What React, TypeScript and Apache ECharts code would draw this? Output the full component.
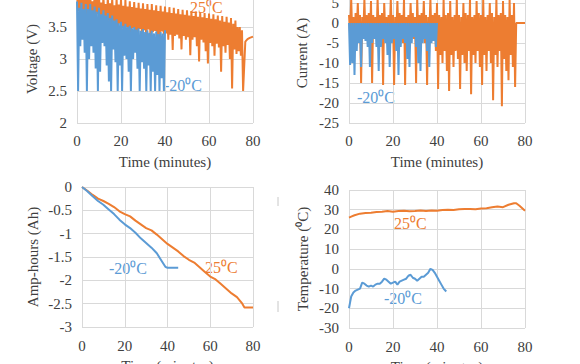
import React, { useEffect, useRef } from "react";
import * as echarts from "echarts";

// ---------- data ----------
const SAMPLE_STEP = 0.5; // minutes between samples of the voltage / current logs

// Voltage (V), -20 °C run, samples every 0.5 min from 0 to 40
const voltCold = [
  3.90, 2.50, 3.80, 3.20, 3.88, 3.30, 3.78, 3.10, 3.86, 2.50,
  3.78, 3.00, 3.86, 3.20, 3.76, 3.10, 3.82, 2.85, 3.74, 2.50,
  3.80, 2.80, 3.70, 3.25, 3.76, 3.20, 3.68, 2.90, 3.72, 2.65,
  3.64, 2.50, 3.68, 3.15, 3.60, 2.95, 3.62, 2.50, 3.56, 2.90,
  3.58, 2.50, 3.52, 3.05, 3.55, 3.00, 3.50, 2.80, 3.52, 2.50,
  3.48, 3.00, 3.50, 3.10, 3.46, 2.85, 3.48, 2.50, 3.44, 2.95,
  3.47, 2.85, 3.42, 2.50, 3.45, 2.90, 3.41, 2.50, 3.44, 2.80,
  3.40, 2.50, 3.43, 2.75, 3.39, 2.50, 3.42, 2.70, 3.40, 2.50,
  3.45,
];

// Voltage (V), 25 °C run, samples every 0.5 min from 0 to 75.5
const voltWarm = [
  4.02, 3.75, 3.95, 3.72, 4.02, 3.70, 3.92, 3.74, 4.02, 3.68,
  3.94, 3.73, 4.00, 3.66, 3.90, 3.71, 3.99, 3.64, 3.92, 3.70,
  3.98, 3.62, 3.88, 3.60, 3.97, 3.66, 3.86, 3.55, 3.96, 3.60,
  3.87, 3.52, 3.95, 3.58, 3.84, 3.50, 3.95, 3.40, 3.85, 3.55,
  3.93, 3.48, 3.83, 3.38, 3.92, 3.50, 3.82, 3.45, 3.90, 3.35,
  3.81, 3.48, 3.89, 3.44, 3.80, 3.30, 3.88, 3.47, 3.79, 3.40,
  3.87, 3.45, 3.78, 3.28, 3.86, 3.46, 3.77, 3.20, 3.86, 3.42,
  3.76, 3.44, 3.84, 3.36, 3.75, 3.22, 3.83, 3.43, 3.74, 3.38,
  3.82, 3.40, 3.73, 3.30, 3.81, 3.38, 3.72, 3.14, 3.80, 3.36,
  3.71, 3.38, 3.78, 3.32, 3.70, 3.15, 3.77, 3.36, 3.69, 3.30,
  3.76, 3.34, 3.68, 3.06, 3.75, 3.30, 3.67, 3.34, 3.74, 3.20,
  3.66, 2.96, 3.73, 3.30, 3.65, 3.26, 3.72, 3.12, 3.64, 2.93,
  3.71, 3.25, 3.63, 3.20, 3.70, 3.05, 3.62, 3.24, 3.68, 3.18,
  3.60, 2.80, 3.67, 3.20, 3.58, 3.10, 3.66, 3.22, 3.57, 3.00,
  3.64, 2.54, 3.55, 3.15, 3.60, 3.08, 3.50, 3.12, 3.50, 3.05,
  3.45, 2.50,
];
// rest voltage after the 25 °C run ends
const voltWarmRestTime = [76.5, 77.5, 78.5, 80];
const voltWarmRest = [3.27, 3.31, 3.33, 3.35];

// Current (A), -20 °C run, samples every 0.5 min from 0 to 40
const currCold = [
  0, -10.5, 0, -10, 0, -13, 0, -7, 0, -5,
  0, -11, 0, -4, 0, -4.5, 0, -6, 0, -11,
  0, -5, 0, -4, 0, -6, 0, -12, 0, -6,
  0, -4, 0, -5, 0, -8, 0, -11, 0, -5,
  0, -4, 0, -7, 0, -13, 0, -6, 0, -4,
  0, -5, 0, -9, 0, -11, 0, -5, 0, -3.5,
  0, -6, 0, -10, 0, -12, 0, -5, 0, -4,
  0, -7, 0, -11, 0, -5, 0, -4.5, 0, -6,
  0,
];

// Current (A), 25 °C run, samples every 0.5 min from 0 to 75.5
const currWarm = [
  2, -3, 6, -4, 1.5, -6, 2.5, -3, 5, -4,
  2, -15, 1.5, -3, 6, -4, 2, -3, 2.5, -5,
  5.5, -15, 2, -3, 1.5, -4, 6, -3, 2, -5,
  2.5, -15.5, 5, -3, 1.5, -4, 2, -3, 6, -4,
  2, -15.5, 1.5, -3, 5.5, -4, 2.5, -3, 2, -5,
  6, -15.5, 1.5, -3, 2, -4, 5, -3, 2.5, -4,
  1.5, -15, 6, -3, 2, -4, 2.5, -3, 5.5, -5,
  2, -15.5, 1.5, -3, 6, -4, 2, -3, 2.5, -7,
  5, -16.5, 2, -8, 1.5, -10, 6, -7, 2, -12,
  2.5, -17, 5.5, -8, 1.5, -11, 2, -7, 6, -9,
  2, -16.5, 1.5, -8, 5, -10, 2.5, -12, 2, -7,
  6, -17.8, 1.5, -8, 2, -10, 5.5, -7, 2.5, -11,
  2, -15.5, 6, -8, 1.5, -12, 2, -7, 5, -10,
  2.5, -19.3, 1.5, -8, 6, -11, 2, -7, 2.5, -20.8,
  5.5, -9, 2, -12, 1.5, -14.3, 6, -8, 2, -11,
  5, -16,
];
const currWarmRestTime = [76, 80];
const currWarmRest = [0, 0];

// Amp-hours (Ah)
const ahWarmTime = [0, 2.5, 5, 7.5, 10, 12.5, 15, 17.5, 20, 22.5, 25, 27.5, 30, 32.5, 35, 37.5, 40, 42.5, 45, 47.5, 50, 52.5, 55, 57.5, 60, 62.5, 65, 67.5, 70, 72.5, 75, 76, 80];
const ahWarm = [0, -0.08, -0.17, -0.25, -0.30, -0.36, -0.43, -0.52, -0.58, -0.63, -0.72, -0.80, -0.88, -0.93, -1.02, -1.12, -1.22, -1.30, -1.38, -1.48, -1.56, -1.62, -1.72, -1.82, -1.92, -1.98, -2.08, -2.18, -2.28, -2.36, -2.50, -2.58, -2.58];
const ahColdTime = [0, 2.5, 5, 7.5, 10, 12.5, 15, 17.5, 20, 22.5, 25, 27.5, 30, 32.5, 35, 37.5, 39, 40, 45];
const ahCold = [0, -0.09, -0.20, -0.30, -0.38, -0.48, -0.58, -0.70, -0.80, -0.88, -0.98, -1.10, -1.20, -1.30, -1.42, -1.60, -1.71, -1.73, -1.73];

// Temperature (°C)
const tempWarmTime = [0, 1, 2.5, 5, 7.5, 10, 12.5, 15, 17.5, 20, 22.5, 25, 27.5, 30, 32.5, 35, 37.5, 40, 42.5, 45, 47.5, 50, 52.5, 55, 57.5, 60, 62.5, 65, 67.5, 70, 72.5, 75, 76, 77.5, 80];
const tempWarm = [26, 26.5, 27.2, 28, 28.3, 28.5, 28.8, 29, 29.3, 29, 29.3, 29.5, 29.2, 29.3, 29.6, 29.4, 29.6, 29.5, 29.8, 30, 29.8, 30.2, 30.3, 30.4, 30.2, 30.6, 30.8, 31.2, 31.6, 31.3, 32.5, 33.3, 33.3, 32, 29.5];
const tempColdTime = [0, 0.5, 1, 2, 3, 4, 5, 6, 7, 8, 9, 10, 11, 12, 13, 14, 15, 16, 17, 18, 19, 20, 21, 22, 23, 24, 25, 26, 27, 28, 29, 30, 31, 32, 33, 34, 35, 36, 37, 38, 39, 40, 41, 42, 43, 44.2];
const tempCold = [-20, -17, -14, -12, -11, -10.5, -10, -7, -7.5, -8.5, -9, -8.5, -9, -8, -7.5, -7.5, -6.5, -5, -5.5, -6.5, -7.5, -7, -6.5, -8, -6.5, -6, -5.5, -5, -3.5, -3, -4.5, -5, -6, -5, -4, -4, -3, -2, 0, -0.5, -2, -4, -6, -8, -10, -11.5];

// Labels
const xTitle = "Time (minutes)";
const yTitles = ["Voltage (V)", "Current (A)", "Amp-hours (Ah)", "Temperature (\u2070C)"];
const warmLabel = "25\u2070C";
const coldLabel = "-20\u2070C";

// ---------- helpers ----------
const sampled = (vals: number[]) => vals.map((v, i) => [i * SAMPLE_STEP, v]);
const paired = (ts: number[], vs: number[]) => ts.map((t, i) => [t, vs[i]]);

const ORANGE = "#ED7D31";
const BLUE = "#5B9BD5";
const TEXT = "#404040";
const GRID = "#d9d9d9";
const FONT = "Liberation Serif";

export default function App() {
  const ref = useRef<HTMLDivElement>(null);

  useEffect(() => {
    if (!ref.current) return;
    const chart = echarts.init(ref.current, undefined, { renderer: "svg" });

    const grids = [
      { left: 77, top: -5, width: 176, height: 128 },
      { left: 349, top: -17, width: 176, height: 140 },
      { left: 82, top: 187, width: 171, height: 140 },
      { left: 349, top: 190, width: 176, height: 138 },
    ];
    const yRanges = [
      { min: 2, max: 4, interval: 0.5, gap: 38 },
      { min: -25, max: 10, interval: 5, gap: 40 },
      { min: -3, max: 0, interval: 0.5, gap: 42 },
      { min: -30, max: 40, interval: 10, gap: 39 },
    ];
    const xMargins = [10, 10, 11, 11];

    const xAxis = grids.map((_, i) => ({
      type: "value",
      gridIndex: i,
      min: 0,
      max: 80,
      interval: 20,
      axisLine: { show: false },
      axisTick: { show: false },
      splitLine: { show: true, lineStyle: { color: GRID, width: 1 } },
      axisLabel: { color: TEXT, fontFamily: FONT, fontSize: 15, margin: xMargins[i] },
      name: xTitle,
      nameLocation: "middle",
      nameGap: 31,
      nameTextStyle: { color: TEXT, fontFamily: FONT, fontSize: 15 },
    }));

    const yAxis = yRanges.map((r, i) => ({
      type: "value",
      gridIndex: i,
      min: r.min,
      max: r.max,
      interval: r.interval,
      axisLine: { show: false },
      axisTick: { show: false },
      splitLine: { show: true, lineStyle: { color: GRID, width: 1 } },
      axisLabel: { color: TEXT, fontFamily: FONT, fontSize: 15, margin: 10 },
      name: yTitles[i],
      nameLocation: "middle",
      nameGap: r.gap,
      nameTextStyle: { color: TEXT, fontFamily: FONT, fontSize: 15 },
    }));

    const line = (idx: number, data: number[][], color: string, width: number) => ({
      type: "line",
      xAxisIndex: idx,
      yAxisIndex: idx,
      data,
      showSymbol: false,
      symbol: "none",
      lineStyle: { color, width },
      itemStyle: { color },
      clip: true,
      silent: true,
    });

    const label = (text: string, x: number, y: number, color: string) => ({
      type: "text",
      x,
      y,
      style: {
        text,
        fill: color,
        font: `16px "${FONT}"`,
        align: "left",
        verticalAlign: "middle",
      },
      silent: true,
    });

    chart.setOption({
      animation: false,
      backgroundColor: "#ffffff",
      grid: grids.map((g) => ({ ...g, containLabel: false, outerBoundsMode: "none" })),
      xAxis,
      yAxis,
      series: [
        line(0, [...sampled(voltWarm), ...paired(voltWarmRestTime, voltWarmRest)], ORANGE, 2),
        line(0, sampled(voltCold), BLUE, 2),
        line(1, [...sampled(currWarm), ...paired(currWarmRestTime, currWarmRest)], ORANGE, 2),
        line(1, sampled(currCold), BLUE, 2),
        line(2, paired(ahWarmTime, ahWarm), ORANGE, 2),
        line(2, paired(ahColdTime, ahCold), BLUE, 2),
        line(3, paired(tempWarmTime, tempWarm), ORANGE, 2),
        line(3, paired(tempColdTime, tempCold), BLUE, 2),
      ],
      graphic: [
        label(warmLabel, 190, 7, ORANGE),
        label(coldLabel, 164, 85, BLUE),
        label(coldLabel, 357, 97, BLUE),
        label(coldLabel, 109, 268, BLUE),
        label(warmLabel, 205, 267, ORANGE),
        label(warmLabel, 394, 223, ORANGE),
        label(coldLabel, 384, 298, BLUE),
        { type: "line", shape: { x1: 278, y1: 197, x2: 278, y2: 206 }, style: { stroke: "#c8c8c8", lineWidth: 1 }, silent: true },
        { type: "line", shape: { x1: 278, y1: 301, x2: 278, y2: 312 }, style: { stroke: "#c8c8c8", lineWidth: 1 }, silent: true },
      ],
    });

    return () => chart.dispose();
  }, []);

  return (
    <div
      ref={ref}
      style={{ position: "absolute", left: 0, top: 0, width: 580, height: 364, background: "#fff" }}
    />
  );
}
